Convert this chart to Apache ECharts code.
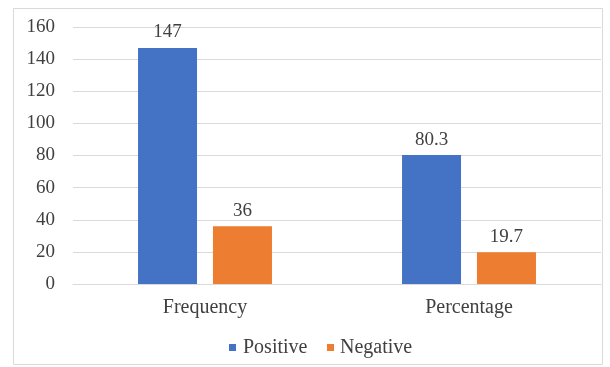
<!DOCTYPE html>
<html>
<head>
<meta charset="utf-8">
<script src="https://cdn.jsdelivr.net/npm/echarts@6/dist/echarts.min.js"></script>
<style>
  html, body { margin: 0; padding: 0; background: #fff; }
  #chart { width: 610px; height: 367px; }
</style>
</head>
<body>
<div id="chart"></div>
<script>
// Response counts and shares by sentiment
const categories = ['Frequency', 'Percentage'];
const seriesNames = ['Positive', 'Negative'];
const positiveValues = [147, 80.3];
const negativeValues = [36, 19.7];
const yTicks = { min: 0, max: 160, interval: 20 };

const FONT = 'Liberation Serif';
const TEXT = '#404040';
const COLORS = ['#4472C4', '#ED7D31'];

const chart = echarts.init(document.getElementById('chart'), null, { renderer: 'canvas' });

// Legend keys drawn as a small graphic group under the axis
const legendSpots = [{ x: 229, tx: 243 }, { x: 327, tx: 340 }];
const legendGraphics = [];
seriesNames.forEach((name, i) => {
  legendGraphics.push({
    type: 'rect',
    shape: { x: legendSpots[i].x, y: 344, width: 7, height: 7 },
    style: { fill: COLORS[i] },
    silent: true
  });
  legendGraphics.push({
    type: 'text',
    x: legendSpots[i].tx,
    y: 348,
    style: {
      text: name, fill: TEXT,
      fontFamily: FONT, fontSize: 20,
      verticalAlign: 'middle'
    },
    silent: true
  });
});

chart.setOption({
  animation: false,
  backgroundColor: '#fff',
  textStyle: { fontFamily: FONT },
  graphic: [{
    type: 'rect',
    shape: { x: 13.5, y: 8.5, width: 589, height: 356 },
    style: { fill: 'none', stroke: '#d9d9d9', lineWidth: 1 },
    silent: true,
    z: -1
  }].concat(legendGraphics),
  grid: { left: 73, right: 9, top: 27, bottom: 83 },
  xAxis: {
    type: 'category',
    data: categories,
    axisLine: { lineStyle: { color: '#d9d9d9' } },
    axisTick: { show: false },
    axisLabel: { fontFamily: FONT, fontSize: 20, color: TEXT, margin: 14 }
  },
  yAxis: {
    type: 'value',
    min: yTicks.min,
    max: yTicks.max,
    interval: yTicks.interval,
    axisLine: { show: false },
    axisTick: { show: false },
    splitLine: { lineStyle: { color: '#d9d9d9' } },
    axisLabel: { fontFamily: FONT, fontSize: 19, color: TEXT, margin: 18 }
  },
  series: [
    {
      name: seriesNames[0],
      type: 'bar',
      data: positiveValues,
      barWidth: 59,
      barGap: '27%',
      itemStyle: { color: COLORS[0] },
      label: { show: true, position: 'top', distance: 6, fontFamily: FONT, fontSize: 19, color: TEXT }
    },
    {
      name: seriesNames[1],
      type: 'bar',
      data: negativeValues,
      barWidth: 59,
      barGap: '27%',
      itemStyle: { color: COLORS[1] },
      label: { show: true, position: 'top', distance: 6, fontFamily: FONT, fontSize: 19, color: TEXT }
    }
  ]
});
</script>
</body>
</html>
